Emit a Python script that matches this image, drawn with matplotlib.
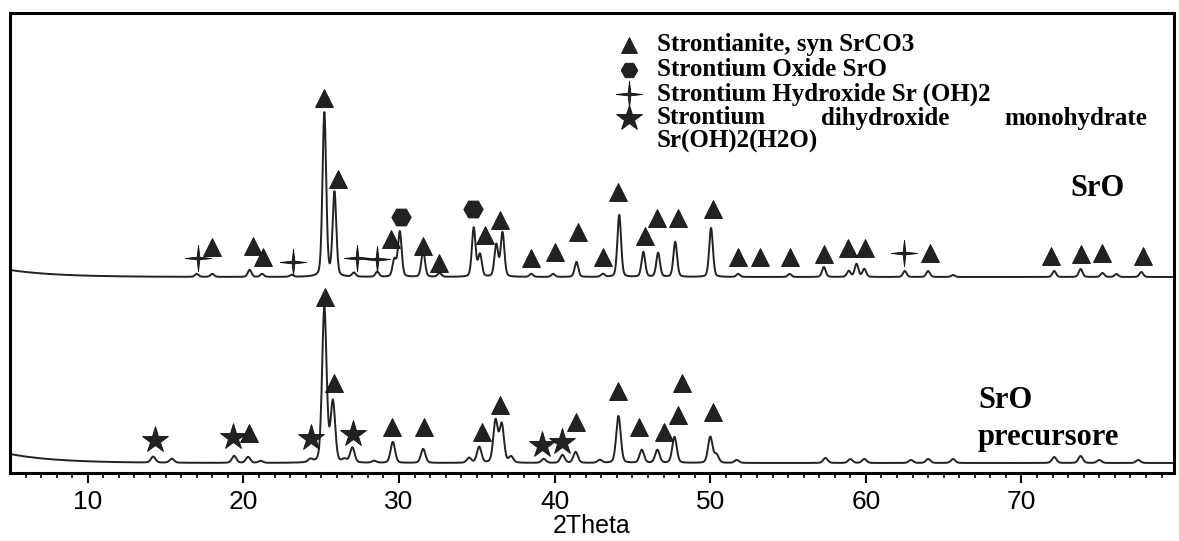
import numpy as np
import matplotlib
matplotlib.use("Agg")
from matplotlib import pyplot as plt
from matplotlib.path import Path

# peak positions (2theta) and heights above baseline
sro_pos = [17.0, 18.0, 20.4, 21.2, 23.1, 25.2, 25.85, 27.1, 28.6, 29.7, 30.05,
           31.55, 32.6, 34.8, 35.2, 36.25, 36.65, 38.5, 39.9, 41.4, 43.1, 44.15,
           45.7, 46.65, 47.75, 50.05, 51.8, 55.1, 57.3, 58.9, 59.4, 59.9, 62.5,
           64.0, 65.6, 72.1, 73.8, 75.2, 76.1, 77.7]
sro_h = [3, 3, 7, 3, 2, 164, 84, 4, 5, 17, 45,
         26, 4, 49, 22, 32, 44, 3, 3, 15, 3, 62,
         25, 24, 35, 49, 3, 3, 10, 6, 13, 8, 6,
         6, 2, 6, 8, 4, 3, 5]
sro_base = 196

pre_pos = [14.2, 15.4, 19.4, 20.3, 21.1, 24.3, 25.2, 25.75, 26.5, 27.0, 28.4,
           29.6, 31.55, 34.5, 35.15, 36.2, 36.6, 37.2, 39.3, 40.5, 41.35, 42.9,
           44.1, 45.6, 46.6, 47.7, 50.0, 50.4, 51.7, 57.4, 59.0, 59.9, 62.9,
           64.0, 65.6, 72.1, 73.8, 75.0, 77.5]
pre_h = [6, 4, 7, 6, 2, 3, 155, 60, 3, 15, 2,
         21, 14, 5, 16, 42, 38, 6, 4, 8, 11, 3,
         47, 13, 13, 26, 26, 8, 3, 5, 4, 4, 3,
         4, 4, 6, 7, 3, 3]
pre_base = 10

# phase markers (2theta, height)
sro_tri_x = [18.0, 20.6, 21.25, 25.2, 26.1, 29.5, 31.55, 32.6, 35.5, 36.5, 38.45,
             40.0, 41.5, 43.1, 44.1, 45.8, 46.6, 47.9, 50.2, 51.8, 53.2, 55.1,
             57.3, 58.85, 59.95, 64.1, 71.9, 73.85, 75.2, 77.8]
sro_tri_y = [226, 227, 216, 375, 294, 234, 227, 210, 238, 253, 215,
             221, 241, 216, 281, 237, 255, 255, 264, 216, 216, 216,
             219, 225, 225, 220, 217, 219, 220, 217]
sro_hex_x = [30.1, 34.75]
sro_hex_y = [256, 264]
sro_plus_x = [17.05, 23.2, 27.3, 28.6, 62.45]
sro_plus_y = [215, 211, 215, 214, 220]

pre_tri_x = [20.35, 25.25, 25.8, 29.55, 31.6, 35.3, 36.5, 41.4, 44.05, 45.45,
             47.0, 47.9, 48.2, 50.15]
pre_tri_y = [40, 176, 90, 46, 46, 41, 68, 51, 82, 46, 41, 58, 90, 61]
pre_star_x = [14.3, 19.3, 24.35, 27.05, 39.2, 40.5]
pre_star_y = [33, 36, 35, 39, 28, 31]

legend_labels = ["Strontianite, syn SrCO3", "Strontium Oxide SrO",
                 "Strontium Hydroxide Sr (OH)2"]
legend_long = ["Strontium", "dihydroxide", "monohydrate"]
legend_last = "Sr(OH)2(H2O)"

ink = "#222222"
serif = "Liberation Serif"
sans = "Liberation Sans"

plus4 = Path([(0, 1), (0.1, 0.1), (1, 0), (0.1, -0.1), (0, -1), (-0.1, -0.1),
              (-1, 0), (-0.1, 0.1), (0, 1)],
             [Path.MOVETO] + [Path.LINETO] * 7 + [Path.CLOSEPOLY])


def pattern(x, pos, h, base, tail, width):
    y = base + tail * np.exp(-(x - 5) / 3.0)
    for p, a in zip(pos, h):
        g = np.exp(-4 * np.log(2) * ((x - p) / width) ** 2)
        l = 1 / (1 + 4 * ((x - p) / width) ** 2)
        y = y + a * (0.75 * g + 0.25 * l)
    return y


tt = np.arange(5.0, 79.8, 0.01)
y_sro = pattern(tt, sro_pos, sro_h, sro_base, 7, 0.28)
y_pre = pattern(tt, pre_pos, pre_h, pre_base, 9, 0.34)

fig = plt.figure(figsize=(11.79, 5.41), dpi=100)
ax = fig.add_axes([10 / 1179, 1 - 473 / 541, 1164 / 1179, 460 / 541])

ax.plot(tt, y_sro, color=ink, lw=1.4)
ax.plot(tt, y_pre, color=ink, lw=1.4)

mk = dict(color=ink, mec="#111111", ls="none", mew=0.6)
ax.plot(sro_tri_x, sro_tri_y, marker="^", ms=13, **mk)
ax.plot(pre_tri_x, pre_tri_y, marker="^", ms=13, **mk)
ax.plot(sro_hex_x, sro_hex_y, marker="H", ms=14, **mk)
ax.plot(sro_plus_x, sro_plus_y, marker=plus4, ms=19, **mk)
ax.plot(pre_star_x, pre_star_y, marker="*", ms=20, **mk)

ax.set_xlim(5, 79.8)
ax.set_ylim(0, 460)

# legend drawn by hand
leg_y = [428, 403, 379, 355, 332]
ax.plot([44.8], [leg_y[0]], marker="^", ms=12, **mk)
ax.plot([44.8], [leg_y[1]], marker="H", ms=12, **mk)
ax.plot([44.8], [leg_y[2]], marker=plus4, ms=19, **mk)
ax.plot([44.8], [leg_y[3]], marker="*", ms=19, **mk)
lt = dict(fontsize=18, fontweight="bold", family=serif, va="center", color="black")
for yy, lab in zip(leg_y, legend_labels):
    ax.text(46.55, yy, lab, **lt)
ax.text(46.55, leg_y[4], legend_last, **lt)

# justified line: first word left, last word right, middle centred in the gap
t1 = ax.text(46.55, leg_y[3], legend_long[0], ha="left", **lt)
t3 = ax.text(78.1, leg_y[3], legend_long[2], ha="right", **lt)
fig.canvas.draw()
inv = ax.transData.inverted()
e1 = inv.transform(t1.get_window_extent().get_points())
e3 = inv.transform(t3.get_window_extent().get_points())
ax.text((e1[1][0] + e3[0][0]) / 2, leg_y[3], legend_long[1], ha="center", **lt)

st = dict(fontsize=22, fontweight="bold", family=serif, va="center", color="black")
ax.text(74.9, 285, "SrO", ha="center", **st)
ax.text(67.2, 73, "SrO", ha="left", **st)
ax.text(67.2, 36, "precursore", ha="left", **st)

ax.set_xticks(range(10, 80, 10))
ax.set_xticks(range(6, 80), minor=True)
ax.set_yticks([])
ax.tick_params(axis="x", which="major", direction="out", length=7, width=1.5,
               pad=5, labelsize=19)
ax.tick_params(axis="x", which="minor", direction="out", length=3.5, width=1.2)
for lab in ax.get_xticklabels():
    lab.set_family(sans)
for s in ax.spines.values():
    s.set_linewidth(2.2)
ax.set_xlabel("2Theta", family=sans, fontsize=18, labelpad=0)

fig.savefig("out.png", dpi=100)
